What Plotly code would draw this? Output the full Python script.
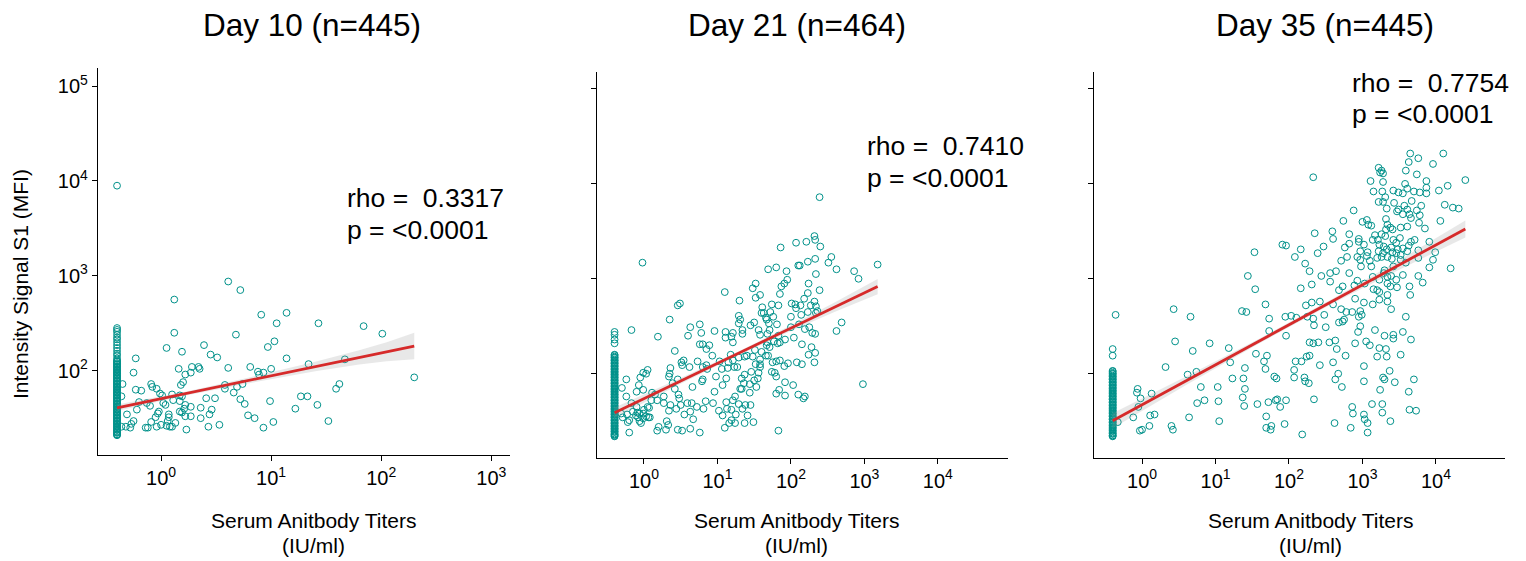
import math
import plotly.graph_objects as go

# screenshot geometry: the page body has an 8px margin, so the figure starts at (8, 8)
SCREEN_W, SCREEN_H = 1526, 561
OX, OY = 8, 8
W, H = SCREEN_W - OX, SCREEN_H - OY
TEAL = "#00918A"
RED = "#D62A2A"
FONT = "Liberation Sans, Arial, sans-serif"

# ---------------- data (log10 titer IU/ml, log10 MFI) ----------------
lloq_log_titer = -0.40   # samples below detection limit plotted at 0.4 IU/ml

titles = ["Day 10 (n=445)", "Day 21 (n=464)", "Day 35 (n=445)"]
rho_text = ["0.3317", "0.7410", "0.7754"]
p_text = ["<0.0001", "<0.0001", "<0.0001"]

d10_points = [
    (0.61, 2.94), (0.72, 2.85), (0.12, 2.75), (0.91, 2.59), (1.14, 2.61), (1.05, 2.50), (1.43, 2.50), (1.84, 2.47),
    (2.01, 2.39), (0.12, 2.40), (0.68, 2.38), (1.03, 2.31), (0.97, 2.25), (0.05, 2.24), (0.19, 2.20), (0.39, 2.27),
    (0.45, 2.17), (0.51, 2.14), (1.14, 2.13), (-0.23, 2.13), (-0.25, 1.98), (0.16, 2.02), (0.28, 2.04), (0.34, 2.04),
    (0.35, 2.02), (0.27, 1.98), (0.22, 1.96), (0.61, 2.03), (0.81, 2.04), (0.88, 1.99), (0.93, 1.98), (1.00, 2.02),
    (0.89, 1.96), (1.34, 2.07), (1.67, 2.12), (2.30, 1.93), (0.20, 1.88), (0.18, 1.85), (-0.09, 1.86), (-0.08, 1.83),
    (-0.04, 1.81), (-0.23, 1.80), (-0.18, 1.79), (-0.01, 1.76), (0.01, 1.74), (0.10, 1.75), (0.17, 1.74), (0.19, 1.73),
    (0.58, 1.85), (0.58, 1.81), (0.69, 1.83), (0.74, 1.86), (0.66, 1.77), (1.62, 1.86), (1.59, 1.81), (0.41, 1.71),
    (0.49, 1.71), (0.72, 1.70), (0.76, 1.65), (0.99, 1.68), (1.27, 1.73), (1.33, 1.73), (1.22, 1.60), (1.42, 1.64),
    (-0.35, 1.86), (-0.36, 1.73), (-0.20, 1.67), (-0.13, 1.66), (-0.10, 1.63), (0.02, 1.66), (0.04, 1.64), (0.11, 1.69),
    (0.17, 1.68), (0.22, 1.64), (0.21, 1.60), (0.17, 1.57), (0.19, 1.56), (0.27, 1.62), (0.36, 1.61), (0.46, 1.59),
    (-0.02, 1.57), (-0.03, 1.55), (0.07, 1.54), (0.07, 1.51), (-0.05, 1.51), (-0.22, 1.59), (-0.31, 1.54), (0.22, 1.52),
    (0.27, 1.52), (0.36, 1.50), (0.44, 1.54), (0.79, 1.53), (0.85, 1.50), (1.02, 1.46), (0.93, 1.40), (1.52, 1.47),
    (0.53, 1.43), (0.43, 1.41), (0.23, 1.38), (0.13, 1.45), (0.08, 1.41), (0.10, 1.41), (0.05, 1.42), (0.00, 1.43),
    (-0.04, 1.41), (-0.09, 1.46), (-0.12, 1.40), (-0.14, 1.40), (-0.25, 1.47), (-0.27, 1.44), (-0.28, 1.40), (-0.32, 1.41),
    (-0.36, 1.41), (0.06, 1.47),
]
d10_pile_log_mfi = [
    3.95, 2.45, 2.43, 2.41, 2.38, 2.35, 2.33, 2.30, 2.27, 2.24, 2.21, 2.18, 2.16, 2.13,
    2.11, 2.10, 2.08, 2.07, 2.05, 2.04, 2.02, 2.01, 1.99, 1.98, 1.96, 1.95, 1.93, 1.92, 1.90, 1.89,
    1.87, 1.86, 1.84, 1.83, 1.81, 1.80, 1.78, 1.77, 1.75, 1.74, 1.72, 1.71, 1.69, 1.68, 1.66, 1.65,
    1.63, 1.62, 1.60, 1.59, 1.57, 1.56, 1.54, 1.53, 1.51, 1.50, 1.48, 1.47, 1.45, 1.44, 1.42, 1.41,
    1.39, 1.38, 1.36, 1.35, 1.33, 1.32,
    2.095, 2.065, 2.035, 2.005, 1.975, 1.945, 1.915, 1.885, 1.855, 1.825, 1.795, 1.765, 1.735, 1.705,
    1.675, 1.645, 1.615, 1.585, 1.555, 1.525, 1.495, 1.465, 1.435, 1.405, 1.375, 1.345, 1.325,
]

d21_points = [
    (2.39, 3.86), (-0.02, 3.17), (1.86, 3.33), (2.07, 3.38), (2.21, 3.39), (2.32, 3.45), (2.33, 3.41), (2.40, 3.34),
    (2.55, 3.23), (2.51, 3.17), (2.62, 3.10), (2.86, 3.08), (2.92, 3.00), (3.18, 3.15), (2.33, 3.21), (2.23, 3.18),
    (2.12, 3.14), (2.10, 3.14), (2.34, 3.05), (1.69, 3.10), (1.80, 3.12), (1.94, 3.08), (1.95, 2.99), (1.91, 2.95),
    (1.87, 2.92), (1.52, 2.95), (1.48, 2.90), (1.10, 2.86), (1.58, 2.83), (1.52, 2.80), (1.85, 2.84), (1.30, 2.77),
    (1.74, 2.73), (1.83, 2.72), (1.61, 2.70), (1.60, 2.64), (2.01, 2.74), (2.06, 2.73), (2.07, 2.69), (2.13, 2.72),
    (2.24, 2.95), (2.39, 2.88), (2.23, 2.85), (2.18, 2.79), (2.32, 2.76), (2.27, 2.72), (2.34, 2.71), (2.23, 2.65),
    (2.14, 2.62), (2.00, 2.60), (2.34, 2.64), (2.36, 2.66), (2.69, 2.54), (2.62, 2.45), (2.29, 2.43), (2.33, 2.42),
    (2.19, 2.47), (2.25, 2.49), (2.11, 2.52), (2.00, 2.49), (2.04, 2.38), (2.15, 2.31), (2.28, 2.28), (2.24, 2.20),
    (2.33, 2.22), (2.32, 2.12), (2.08, 2.12), (2.15, 2.10), (1.96, 2.11), (1.91, 2.08), (1.85, 2.14), (1.80, 2.13),
    (1.75, 2.12), (1.78, 2.01), (1.74, 2.02), (1.80, 1.97), (1.92, 1.91), (2.03, 1.88), (1.84, 1.83), (1.80, 1.79),
    (1.92, 1.77), (2.10, 1.78), (2.19, 1.76), (2.17, 1.74), (2.98, 1.89), (1.83, 1.40), (0.46, 2.72), (0.49, 2.74),
    (0.35, 2.57), (-0.17, 2.46), (0.19, 2.39), (0.42, 2.24), (0.60, 2.40), (0.63, 2.49), (0.76, 2.52), (0.78, 2.43),
    (0.96, 2.45), (1.11, 2.44), (1.11, 2.38), (1.21, 2.43), (1.19, 2.39), (1.21, 2.33), (1.34, 2.46), (1.34, 2.42),
    (1.29, 2.61), (1.31, 2.57), (1.29, 2.53), (1.45, 2.51), (1.50, 2.54), (1.56, 2.46), (1.58, 2.41), (1.67, 2.57),
    (1.70, 2.53), (1.66, 2.59), (1.63, 2.64), (1.72, 2.65), (1.76, 2.60), (1.81, 2.52), (1.71, 2.46), (1.68, 2.42),
    (1.83, 2.40), (1.77, 2.34), (1.82, 2.32), (1.85, 2.33), (1.92, 2.36), (1.68, 2.33), (1.60, 2.23), (1.67, 2.30),
    (1.58, 2.15), (1.58, 2.10), (1.52, 2.10), (1.58, 2.07), (1.56, 2.01), (1.55, 1.95), (1.50, 1.93), (1.46, 2.02),
    (1.37, 1.99), (1.33, 1.95), (1.33, 1.84), (1.36, 1.90), (1.31, 1.84), (1.44, 1.89), (1.44, 1.80), (1.53, 1.86),
    (1.66, 2.19), (1.69, 2.19), (1.71, 2.28), (1.51, 2.25), (1.48, 2.18), (1.40, 2.19), (1.37, 2.18), (1.29, 2.17),
    (1.27, 2.07), (1.23, 2.07), (1.21, 2.14), (1.18, 2.20), (1.15, 2.12), (1.14, 2.06), (1.12, 1.95), (1.06, 2.05),
    (1.03, 2.13), (1.07, 1.88), (0.96, 1.81), (0.93, 2.19), (0.80, 2.31), (0.89, 2.30), (0.85, 2.26), (0.76, 2.31),
    (0.73, 2.13), (0.85, 2.09), (0.80, 2.07), (0.86, 2.05), (0.98, 1.97), (0.80, 1.94), (0.79, 1.92), (0.66, 1.86),
    (0.54, 2.14), (0.51, 2.12), (0.52, 2.09), (0.62, 2.07), (0.36, 2.06), (0.35, 2.00), (0.46, 1.94), (0.39, 1.90),
    (0.42, 1.84), (0.47, 1.78), (0.48, 1.74), (0.36, 1.67), (0.34, 1.61), (0.44, 1.63), (0.50, 1.67), (0.59, 1.69),
    (0.65, 1.69), (0.72, 1.65), (0.63, 1.60), (0.55, 1.57), (0.67, 1.52), (0.81, 1.63), (0.84, 1.71), (1.02, 1.61),
    (1.07, 1.56), (1.12, 1.70), (1.13, 1.63), (1.19, 1.62), (1.21, 1.72), (1.24, 1.76), (1.29, 1.68), (1.34, 1.63),
    (1.38, 1.67), (1.45, 1.67), (1.25, 1.57), (1.19, 1.51), (1.24, 1.48), (1.16, 1.48), (1.10, 1.43), (1.37, 1.48),
    (1.49, 1.49), (1.41, 1.56), (0.94, 1.69), (0.31, 1.50), (0.33, 1.46), (0.30, 1.41), (0.20, 1.44), (0.18, 1.40),
    (0.46, 1.41), (0.52, 1.40), (0.63, 1.42), (0.76, 1.38), (-0.20, 1.38), (-0.24, 1.94), (-0.30, 1.85), (-0.24, 1.76),
    (-0.17, 1.69), (-0.15, 1.60), (-0.10, 1.65), (-0.10, 1.81), (-0.01, 1.83), (-0.07, 1.88), (-0.05, 1.96), (-0.01, 2.01),
    (0.05, 2.04), (0.03, 2.00), (0.11, 1.80), (0.15, 1.78), (0.18, 1.72), (0.10, 1.72), (0.05, 1.65), (0.00, 1.62),
    (-0.01, 1.58), (-0.06, 1.58), (-0.08, 1.54), (-0.06, 1.50), (-0.01, 1.53), (0.03, 1.55), (0.08, 1.54), (0.07, 1.64),
    (0.27, 1.76), (0.27, 1.69), (0.34, 1.97), (-0.23, 1.57), (-0.20, 1.51), (-0.29, 1.54), (-0.31, 1.58), (-0.22, 1.49),
    (-0.11, 1.56), (0.06, 1.54), (-0.04, 1.48), (-0.09, 1.59),
]
d21_pile_log_mfi = [
    2.44, 2.41, 2.36, 2.32,
    2.20, 2.18, 2.17, 2.15, 2.14, 2.12, 2.11, 2.09, 2.08, 2.06, 2.05, 2.03, 2.02, 2.00, 1.99, 1.97,
    1.96, 1.94, 1.93, 1.91, 1.90, 1.88, 1.87, 1.85, 1.84, 1.82, 1.81, 1.79, 1.78, 1.76, 1.75, 1.73,
    1.72, 1.70, 1.69, 1.67, 1.66, 1.64, 1.63, 1.61, 1.60, 1.58, 1.57, 1.55, 1.54, 1.52, 1.51, 1.49,
    1.48, 1.46, 1.45, 1.43, 1.42, 1.40, 1.39, 1.37, 1.36, 1.34,
    2.195, 2.165, 2.135, 2.105, 2.075, 2.045, 2.015, 1.985, 1.955, 1.925, 1.895, 1.865, 1.835, 1.805,
    1.775, 1.745, 1.715, 1.685, 1.655, 1.625, 1.595, 1.565, 1.535, 1.505, 1.475, 1.445, 1.415, 1.385,
    1.355, 1.345,
]

d35_points = [
    (3.65, 4.32), (3.76, 4.27), (4.10, 4.32), (3.63, 4.23), (3.96, 4.21), (3.22, 4.17), (3.26, 4.14), (3.28, 4.11),
    (3.24, 4.12), (3.59, 4.14), (3.74, 4.10), (2.33, 4.07), (3.11, 4.03), (3.28, 4.02), (3.87, 4.03), (4.40, 4.04),
    (3.58, 4.00), (3.61, 3.95), (3.87, 3.96), (4.16, 3.98), (4.04, 3.93), (3.15, 3.92), (3.27, 3.92), (3.42, 3.93),
    (3.49, 3.91), (3.55, 3.90), (3.70, 3.92), (3.78, 3.91), (3.87, 3.90), (3.31, 3.86), (3.22, 3.81), (3.28, 3.81),
    (3.43, 3.80), (3.57, 3.77), (3.67, 3.82), (3.80, 3.77), (4.12, 3.78), (4.23, 3.75), (4.31, 3.74), (2.88, 3.72),
    (3.33, 3.74), (3.49, 3.73), (3.47, 3.71), (3.61, 3.73), (3.55, 3.68), (3.64, 3.68), (3.74, 3.72), (3.78, 3.67),
    (3.66, 3.64), (2.74, 3.61), (3.00, 3.60), (3.06, 3.62), (3.12, 3.56), (3.08, 3.57), (3.32, 3.63), (3.34, 3.57),
    (3.38, 3.54), (3.32, 3.52), (3.41, 3.52), (3.52, 3.54), (3.61, 3.55), (3.77, 3.59), (3.85, 3.53), (4.06, 3.61),
    (2.35, 3.48), (2.59, 3.50), (2.60, 3.42), (2.82, 3.47), (2.95, 3.42), (2.95, 3.39), (3.17, 3.46), (3.21, 3.41),
    (3.26, 3.47), (3.31, 3.45), (3.42, 3.41), (3.51, 3.43), (3.46, 3.38), (3.66, 3.39), (3.71, 3.41), (3.91, 3.39),
    (1.91, 3.36), (1.96, 3.35), (2.16, 3.31), (2.47, 3.34), (2.39, 3.27), (2.08, 3.23), (2.22, 3.16), (2.28, 3.08),
    (2.76, 3.33), (2.82, 3.37), (3.02, 3.36), (3.14, 3.41), (3.23, 3.36), (3.29, 3.34), (3.33, 3.31), (3.39, 3.33),
    (3.48, 3.31), (3.55, 3.32), (3.63, 3.35), (2.97, 3.29), (3.07, 3.28), (3.22, 3.29), (3.28, 3.27), (3.41, 3.28),
    (3.46, 3.27), (3.52, 3.25), (3.61, 3.29), (3.76, 3.30), (3.99, 3.28), (2.71, 3.19), (2.79, 3.23), (2.93, 3.23),
    (2.97, 3.20), (3.06, 3.24), (3.10, 3.19), (3.20, 3.22), (3.26, 3.23), (3.34, 3.23), (3.40, 3.21), (3.52, 3.20),
    (3.59, 3.17), (3.76, 3.22), (3.96, 3.20), (3.91, 3.12), (4.20, 3.11), (2.98, 3.13), (3.12, 3.13), (3.30, 3.09),
    (3.42, 3.13), (1.53, 3.28), (1.44, 3.03), (1.54, 2.89), (2.16, 2.90), (2.31, 2.94), (2.44, 3.03), (2.56, 3.06),
    (2.64, 3.08), (2.56, 2.97), (2.68, 2.88), (2.73, 2.92), (2.82, 3.06), (2.89, 2.93), (2.93, 2.98), (3.03, 2.95),
    (3.14, 3.02), (3.23, 2.99), (3.29, 3.06), (3.34, 3.02), (3.39, 3.03), (3.46, 2.99), (3.55, 3.04), (3.76, 3.03),
    (3.82, 2.96), (3.34, 2.95), (3.38, 2.92), (3.47, 2.91), (3.64, 2.92), (3.15, 2.89), (3.20, 2.88), (3.23, 2.86),
    (3.34, 2.83), (3.65, 2.83),
    (1.68, 2.73), (2.23, 2.72), (2.31, 2.75), (2.42, 2.76), (2.60, 2.73), (2.90, 2.79), (3.02, 2.75), (3.14, 2.73),
    (3.34, 2.76), (3.23, 2.78), (-0.36, 2.62), (0.43, 2.68), (0.66, 2.60), (1.36, 2.66), (1.42, 2.65), (1.73, 2.58),
    (1.95, 2.60), (2.03, 2.61), (2.10, 2.59), (2.25, 2.60), (2.33, 2.58), (2.48, 2.62), (2.71, 2.68), (2.78, 2.65),
    (2.86, 2.65), (2.97, 2.66), (2.99, 2.62), (2.95, 2.60), (2.75, 2.57), (2.73, 2.55), (2.68, 2.54), (3.39, 2.68),
    (3.59, 2.60), (2.34, 2.51), (2.50, 2.49), (2.97, 2.50), (2.94, 2.44), (3.17, 2.46), (3.30, 2.40), (3.42, 2.41),
    (3.42, 2.37), (3.55, 2.44), (3.66, 2.36), (1.73, 2.45), (1.96, 2.40), (0.45, 2.34), (0.92, 2.32), (0.69, 2.24),
    (1.18, 2.27), (1.55, 2.21), (1.70, 2.19), (1.66, 2.13), (1.68, 2.05), (2.28, 2.33), (2.33, 2.32), (2.40, 2.33),
    (2.55, 2.33), (2.63, 2.35), (2.65, 2.26), (2.90, 2.32), (3.05, 2.34), (3.10, 2.30), (3.23, 2.27), (3.32, 2.26),
    (3.20, 2.18), (3.33, 2.18), (3.52, 2.20), (2.77, 2.19), (2.24, 2.18), (2.28, 2.19), (2.17, 2.13), (2.09, 2.13),
    (2.60, 2.12), (2.42, 2.09), (3.02, 2.08), (3.37, 2.03), (0.32, 2.07), (0.62, 1.99), (0.74, 2.02), (1.20, 2.12),
    (1.40, 2.06), (1.23, 1.95), (1.38, 1.95), (1.80, 1.97), (1.83, 1.95), (2.07, 2.04), (2.07, 1.96), (2.21, 1.96),
    (2.22, 1.92), (2.27, 1.90), (2.67, 2.00), (2.63, 1.94), (2.72, 1.86), (3.02, 1.92), (3.28, 1.96), (3.30, 1.94),
    (3.44, 1.91), (3.70, 1.94), (3.63, 1.81), (3.24, 1.83), (0.80, 1.86), (1.03, 1.86), (1.40, 1.84), (1.37, 1.75),
    (1.39, 1.66), (1.57, 1.68), (1.72, 1.70), (1.82, 1.72), (1.84, 1.73), (1.88, 1.65), (1.96, 1.72), (2.34, 1.73),
    (3.13, 1.68), (3.27, 1.68), (2.86, 1.65), (2.87, 1.58), (3.27, 1.59), (3.02, 1.57), (3.03, 1.52), (3.38, 1.50),
    (3.64, 1.62), (3.73, 1.61), (2.62, 1.48), (2.84, 1.43), (3.07, 1.48), (3.07, 1.38), (2.18, 1.36), (1.94, 1.47),
    (1.76, 1.45), (1.69, 1.43), (1.75, 1.41), (1.69, 1.55), (1.05, 1.50), (0.75, 1.69), (0.85, 1.72), (1.04, 1.71),
    (0.64, 1.54), (0.40, 1.45), (0.42, 1.41), (0.10, 1.45), (0.00, 1.41), (-0.03, 1.40), (0.11, 1.56), (0.17, 1.57),
    (-0.12, 1.54), (-0.33, 1.49), (-0.06, 1.84), (-0.07, 1.80), (-0.02, 1.74), (0.13, 1.79), (-0.05, 1.65),
]
d35_pile_log_mfi = [
    2.26, 2.19,
    2.03, 2.01, 2.00, 1.98, 1.97, 1.95, 1.94, 1.92, 1.91, 1.89, 1.88, 1.86, 1.85, 1.83, 1.82, 1.80,
    1.79, 1.77, 1.76, 1.74, 1.73, 1.71, 1.70, 1.68, 1.67, 1.65, 1.64, 1.62, 1.61, 1.59, 1.58, 1.56,
    1.55, 1.53, 1.52, 1.50, 1.49, 1.47, 1.46, 1.44, 1.43, 1.41, 1.40, 1.38, 1.37, 1.35, 1.34,
    2.025, 1.995, 1.965, 1.935, 1.905, 1.875, 1.845, 1.815, 1.785, 1.755, 1.725, 1.695, 1.665, 1.635,
    1.605, 1.575, 1.545, 1.515, 1.485, 1.455, 1.425, 1.395, 1.365, 1.345,
]

fit_intercept = [1.706, 1.738, 1.673]
fit_slope = [0.241, 0.371, 0.421]
d10_ci_x = [-0.40, 0.20, 0.80, 1.40, 1.80, 2.05, 2.30]
d10_ci_half = [0.035, 0.020, 0.030, 0.050, 0.075, 0.100, 0.140]
d21_ci_x = [-0.40, 0.50, 1.30, 2.00, 2.60, 3.18]
d21_ci_half = [0.055, 0.030, 0.020, 0.030, 0.050, 0.080]
d35_ci_x = [-0.40, 0.60, 1.60, 2.60, 3.50, 4.40]
d35_ci_half = [0.080, 0.045, 0.025, 0.025, 0.050, 0.090]

# ---------------- layout (pixel geometry of the reference screenshot) ----------------
panels = [
    dict(points=d10_points, pile=d10_pile_log_mfi, ci_x=d10_ci_x, ci_h=d10_ci_half,
         px=(98, 510), py=(68, 455), xr=(-0.573, 3.17), yr=(1.112, 5.19),
         xt=[1, 10, 100, 1000], title_xy=(312, 25), stat_xy=(345, 198, 230), xtitle_x=313, ylabels=True),
    dict(points=d21_points, pile=d21_pile_log_mfi, ci_x=d21_ci_x, ci_h=d21_ci_half,
         px=(596.7, 1007.7), py=(71.7, 457.7), xr=(-0.643, 4.95), yr=(1.115, 5.182),
         xt=[1, 10, 100, 1000, 10000], title_xy=(797, 25), stat_xy=(865, 146, 178), xtitle_x=796, ylabels=False),
    dict(points=d35_points, pile=d35_pile_log_mfi, ci_x=d35_ci_x, ci_h=d35_ci_half,
         px=(1094, 1505), py=(71.7, 457.7), xr=(-0.654, 4.94), yr=(1.115, 5.182),
         xt=[1, 10, 100, 1000, 10000], title_xy=(1325, 25), stat_xy=(1350, 83, 114), xtitle_x=1310, ylabels=False),
]


def fx(p):
    return (p - OX) / W


def fy(p):
    return 1 - (p - OY) / H


def sup_label(v):
    return "10<sup>%d</sup>" % round(math.log10(v))


fig = go.Figure()
annotations = []
axis_font = dict(family=FONT, size=20, color="black")

for i, pn in enumerate(panels):
    k = "" if i == 0 else str(i + 1)
    xref, yref = "x" + k, "y" + k

    lx = [lloq_log_titer] * len(pn["pile"]) + [p[0] for p in pn["points"]]
    ly = list(pn["pile"]) + [p[1] for p in pn["points"]]
    fig.add_trace(go.Scatter(
        x=[10 ** v for v in lx], y=[10 ** v for v in ly], mode="markers",
        marker=dict(symbol="circle-open", size=6.8, color=TEAL, line=dict(width=1.0, color=TEAL)),
        xaxis=xref, yaxis=yref, showlegend=False, hoverinfo="skip"))

    a, b = fit_intercept[i], fit_slope[i]
    cx = pn["ci_x"]
    up = [a + b * x + h for x, h in zip(cx, pn["ci_h"])]
    lo = [a + b * x - h for x, h in zip(cx, pn["ci_h"])]
    fig.add_trace(go.Scatter(
        x=[10 ** v for v in cx + cx[::-1]], y=[10 ** v for v in up + lo[::-1]],
        mode="lines", fill="toself", fillcolor="rgba(150,150,150,0.22)", line=dict(width=0),
        xaxis=xref, yaxis=yref, showlegend=False, hoverinfo="skip"))
    fig.add_trace(go.Scatter(
        x=[10 ** cx[0], 10 ** cx[-1]], y=[10 ** (a + b * cx[0]), 10 ** (a + b * cx[-1])],
        mode="lines", line=dict(color=RED, width=2.8),
        xaxis=xref, yaxis=yref, showlegend=False, hoverinfo="skip"))

    common = dict(showline=True, linecolor="black", linewidth=1.3, ticks="outside", ticklen=5,
                  tickwidth=1.1, tickcolor="black", showgrid=False, zeroline=False, type="log",
                  tickfont=axis_font)
    fig.layout["xaxis" + k] = dict(
        common, domain=[fx(pn["px"][0]), fx(pn["px"][1])], range=list(pn["xr"]), anchor=yref,
        tickvals=pn["xt"], ticktext=[sup_label(v) for v in pn["xt"]])
    yt = [100, 1000, 10000, 100000]
    fig.layout["yaxis" + k] = dict(
        common, domain=[fy(pn["py"][1]), fy(pn["py"][0])], range=list(pn["yr"]), anchor=xref,
        tickvals=yt, ticktext=[sup_label(v) for v in yt], showticklabels=pn["ylabels"])

    tx, ty = pn["title_xy"]
    annotations.append(dict(text=titles[i], x=fx(tx), y=fy(ty), xref="paper", yref="paper",
                            xanchor="center", yanchor="middle", showarrow=False,
                            font=dict(family=FONT, size=31.5, color="black")))
    sx, sy1, sy2 = pn["stat_xy"]
    annotations.append(dict(text="rho = \u00a0" + rho_text[i], x=fx(sx), y=fy(sy1), xref="paper",
                            yref="paper", xanchor="left", yanchor="middle", showarrow=False,
                            font=dict(family=FONT, size=26.5, color="black")))
    annotations.append(dict(text="p = " + p_text[i].replace("<", "&lt;"), x=fx(sx), y=fy(sy2),
                            xref="paper", yref="paper", xanchor="left", yanchor="middle",
                            showarrow=False, font=dict(family=FONT, size=26.5, color="black")))
    annotations.append(dict(text="Serum Anitbody Titers", x=fx(pn["xtitle_x"]), y=fy(520),
                            xref="paper", yref="paper", xanchor="center", yanchor="middle",
                            showarrow=False, font=dict(family=FONT, size=21, color="black")))
    annotations.append(dict(text="(IU/ml)", x=fx(pn["xtitle_x"]), y=fy(545),
                            xref="paper", yref="paper", xanchor="center", yanchor="middle",
                            showarrow=False, font=dict(family=FONT, size=21, color="black")))

annotations.append(dict(text="Intensity Signal S1 (MFI)", x=fx(20), y=fy(284), xref="paper",
                        yref="paper", xanchor="center", yanchor="middle", textangle=-90,
                        showarrow=False, font=dict(family=FONT, size=21, color="black")))

fig.update_layout(width=W, height=H, margin=dict(l=0, r=0, t=0, b=0),
                  paper_bgcolor="white", plot_bgcolor="white", annotations=annotations,
                  font=dict(family=FONT, color="black"))

fig.write_html("out.html")
